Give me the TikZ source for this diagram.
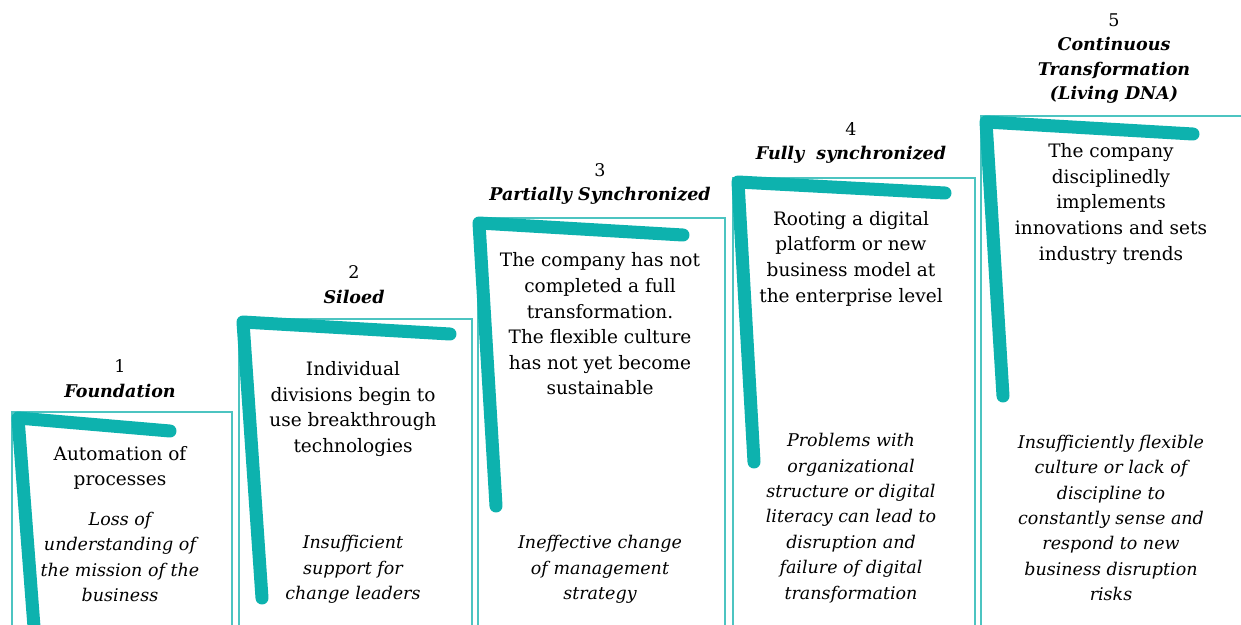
\documentclass[tikz,border=0pt]{standalone}
\usepackage{fontspec}
\setmainfont{DejaVu Serif}
\definecolor{brushteal}{HTML}{0DB2AE}
\definecolor{frameteal}{HTML}{4CC4C1}

\begin{document}
\begin{tikzpicture}[x=1pt, y=-1pt]
    \tikzstyle{every node} = [align=center, inner sep=0pt, font=\fontsize{18.5}{25.6}\selectfont]
    \tikzstyle{frame} = [draw=frameteal, line width=1.3pt]
    \tikzstyle{brush} = [draw=brushteal, line width=13pt, line cap=round, line join=round]
    \tikzstyle{head} = [font=\fontsize{17.5}{24.5}\selectfont]
    \tikzstyle{risk} = [font=\fontsize{17.5}{25.4}\selectfont\itshape]
    \newcommand{\stage}[1]{\textbf{\textit{#1}}}

    \clip (0, 0) rectangle (1241, 624);
    \fill [white] (0, 0) rectangle (1241, 624);

    \foreach \xl/\xr/\yt in {12/232/412, 239/472/319, 478/725/218, 733/975/178, 981/1260/116}
      \draw [frame] (\xl, 640) |- (\xr, \yt) -- (\xr, 640);

    \foreach \ax/\ay/\bx/\by/\cx/\cy in {35/640/18/418/170/431, 262/598/243/322/450/334,
        496/506/479/223/683/235, 754/462/738/182/945/193, 1003/396/986/122/1193/134}
      \draw [brush] (\ax, \ay) -- (\bx, \by) -- (\cx, \cy);

    % step 1
    \node [head] (head1) at (120, 378.5) {1\\\stage{Foundation}};
    \node (task1) at (120, 468) {Automation of\\processes};
    \node [risk] (risk1) at (120, 557) {Loss of\\understanding of\\the mission of the\\business};

    % step 2
    \node [head] (head2) at (354, 284.5) {2\\\stage{Siloed}};
    \node (task2) at (353, 409) {Individual\\divisions begin to\\use breakthrough\\technologies};
    \node [risk] (risk2) at (353, 569.5) {Insufficient\\support for\\change leaders};

    % step 3
    \node [head] (head3) at (600, 184) {3\\\stage{Partially Synchronized}};
    \node (task3) at (600, 324) {The company has not\\completed a full\\transformation.\\The flexible culture\\has not yet become\\sustainable};
    \node [risk] (risk3) at (600, 569.5) {Ineffective change\\of management\\strategy};

    % step 4
    \node [head] (head4) at (851, 143) {4\\\stage{Fully\ \ synchronized}};
    \node (task4) at (851, 258.5) {Rooting a digital\\platform or new\\business model at\\the enterprise level};
    \node [risk] (risk4) at (851, 518) {Problems with\\organizational\\structure or digital\\literacy can lead to\\disruption and\\failure of digital\\transformation};

    % step 5
    \node [head] (head5) at (1114, 58.5) {5\\\stage{Continuous}\\\stage{Transformation}\\\stage{(Living DNA)}};
    \node (task5) at (1111, 204) {The company\\disciplinedly\\implements\\innovations and sets\\industry trends};
    \node [risk] (risk5) at (1111, 518) {Insufficiently flexible\\culture or lack of\\discipline to\\constantly sense and\\respond to new\\business disruption\\risks};
\end{tikzpicture}
\end{document}
